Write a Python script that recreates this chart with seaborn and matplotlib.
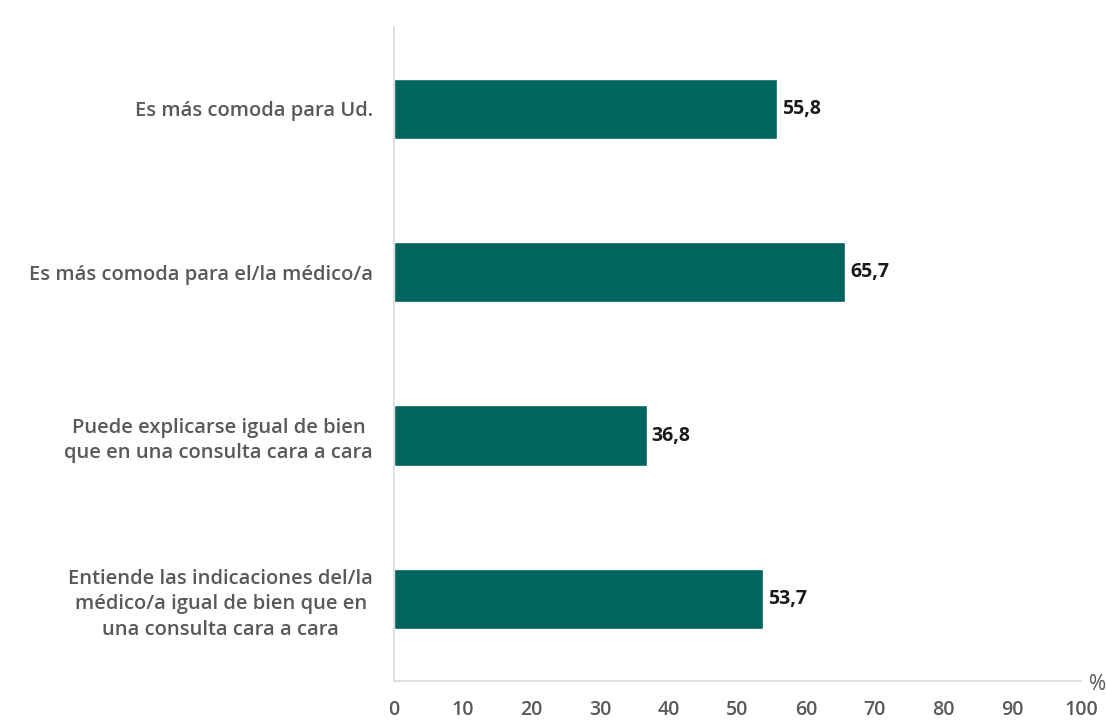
import matplotlib
matplotlib.use("Agg")
import matplotlib.pyplot as plt
import seaborn as sns
import pandas as pd

categories = [
    "Es más comoda para Ud.",
    "Es más comoda para el/la médico/a",
    "Puede explicarse igual de bien\nque en una consulta cara a cara",
    "Entiende las indicaciones del/la\nmédico/a igual de bien que en\nuna consulta cara a cara",
]
values = [55.8, 65.7, 36.8, 53.7]
value_labels = ["55,8", "65,7", "36,8", "53,7"]
xticks = [0, 10, 20, 30, 40, 50, 60, 70, 80, 90, 100]

sns.set_theme(style="white")
plt.rcParams["font.family"] = ["Open Sans", "DejaVu Sans"]

df = pd.DataFrame({"cat": categories, "val": values})

fig = plt.figure(figsize=(11.06, 7.26), dpi=100)
ax = fig.add_axes([0.3562, 0.062, 0.9774 - 0.3562, 0.9628 - 0.062])

sns.barplot(data=df, x="val", y="cat", color="#00645F", width=0.37,
            saturation=1, ax=ax, orient="h")

ax.set_xlim(0, 100)
ax.set_ylim(3.5, -0.5)
ax.set_xlabel("")
ax.set_ylabel("")
ax.set_xticks(xticks)
ax.set_xticklabels([str(t) for t in xticks], fontsize=14, color="#595959",
                   fontweight="semibold")
ax.tick_params(axis="x", direction="in", length=4, color="#D9D9D9", pad=14)
ax.tick_params(axis="y", length=0, pad=15)
for lab in ax.get_yticklabels():
    lab.set_fontsize(14.5)
    lab.set_color("#595959")
    lab.set_fontweight("semibold")
    lab.set_multialignment("center")
    lab.set_linespacing(1.35)

for s in ["top", "right"]:
    ax.spines[s].set_visible(False)
for s in ["left", "bottom"]:
    ax.spines[s].set_color("#D9D9D9")
    ax.spines[s].set_linewidth(1.2)

for i, (v, t) in enumerate(zip(values, value_labels)):
    ax.text(v + 0.7, i, t, va="center", ha="left", fontsize=14,
            fontweight="bold", color="#1A1A1A")

ax.text(1.012, -0.005, "%", transform=ax.transAxes, ha="left", va="center",
        fontsize=15, color="#595959")

fig.savefig("out.png", dpi=100, facecolor="white")
